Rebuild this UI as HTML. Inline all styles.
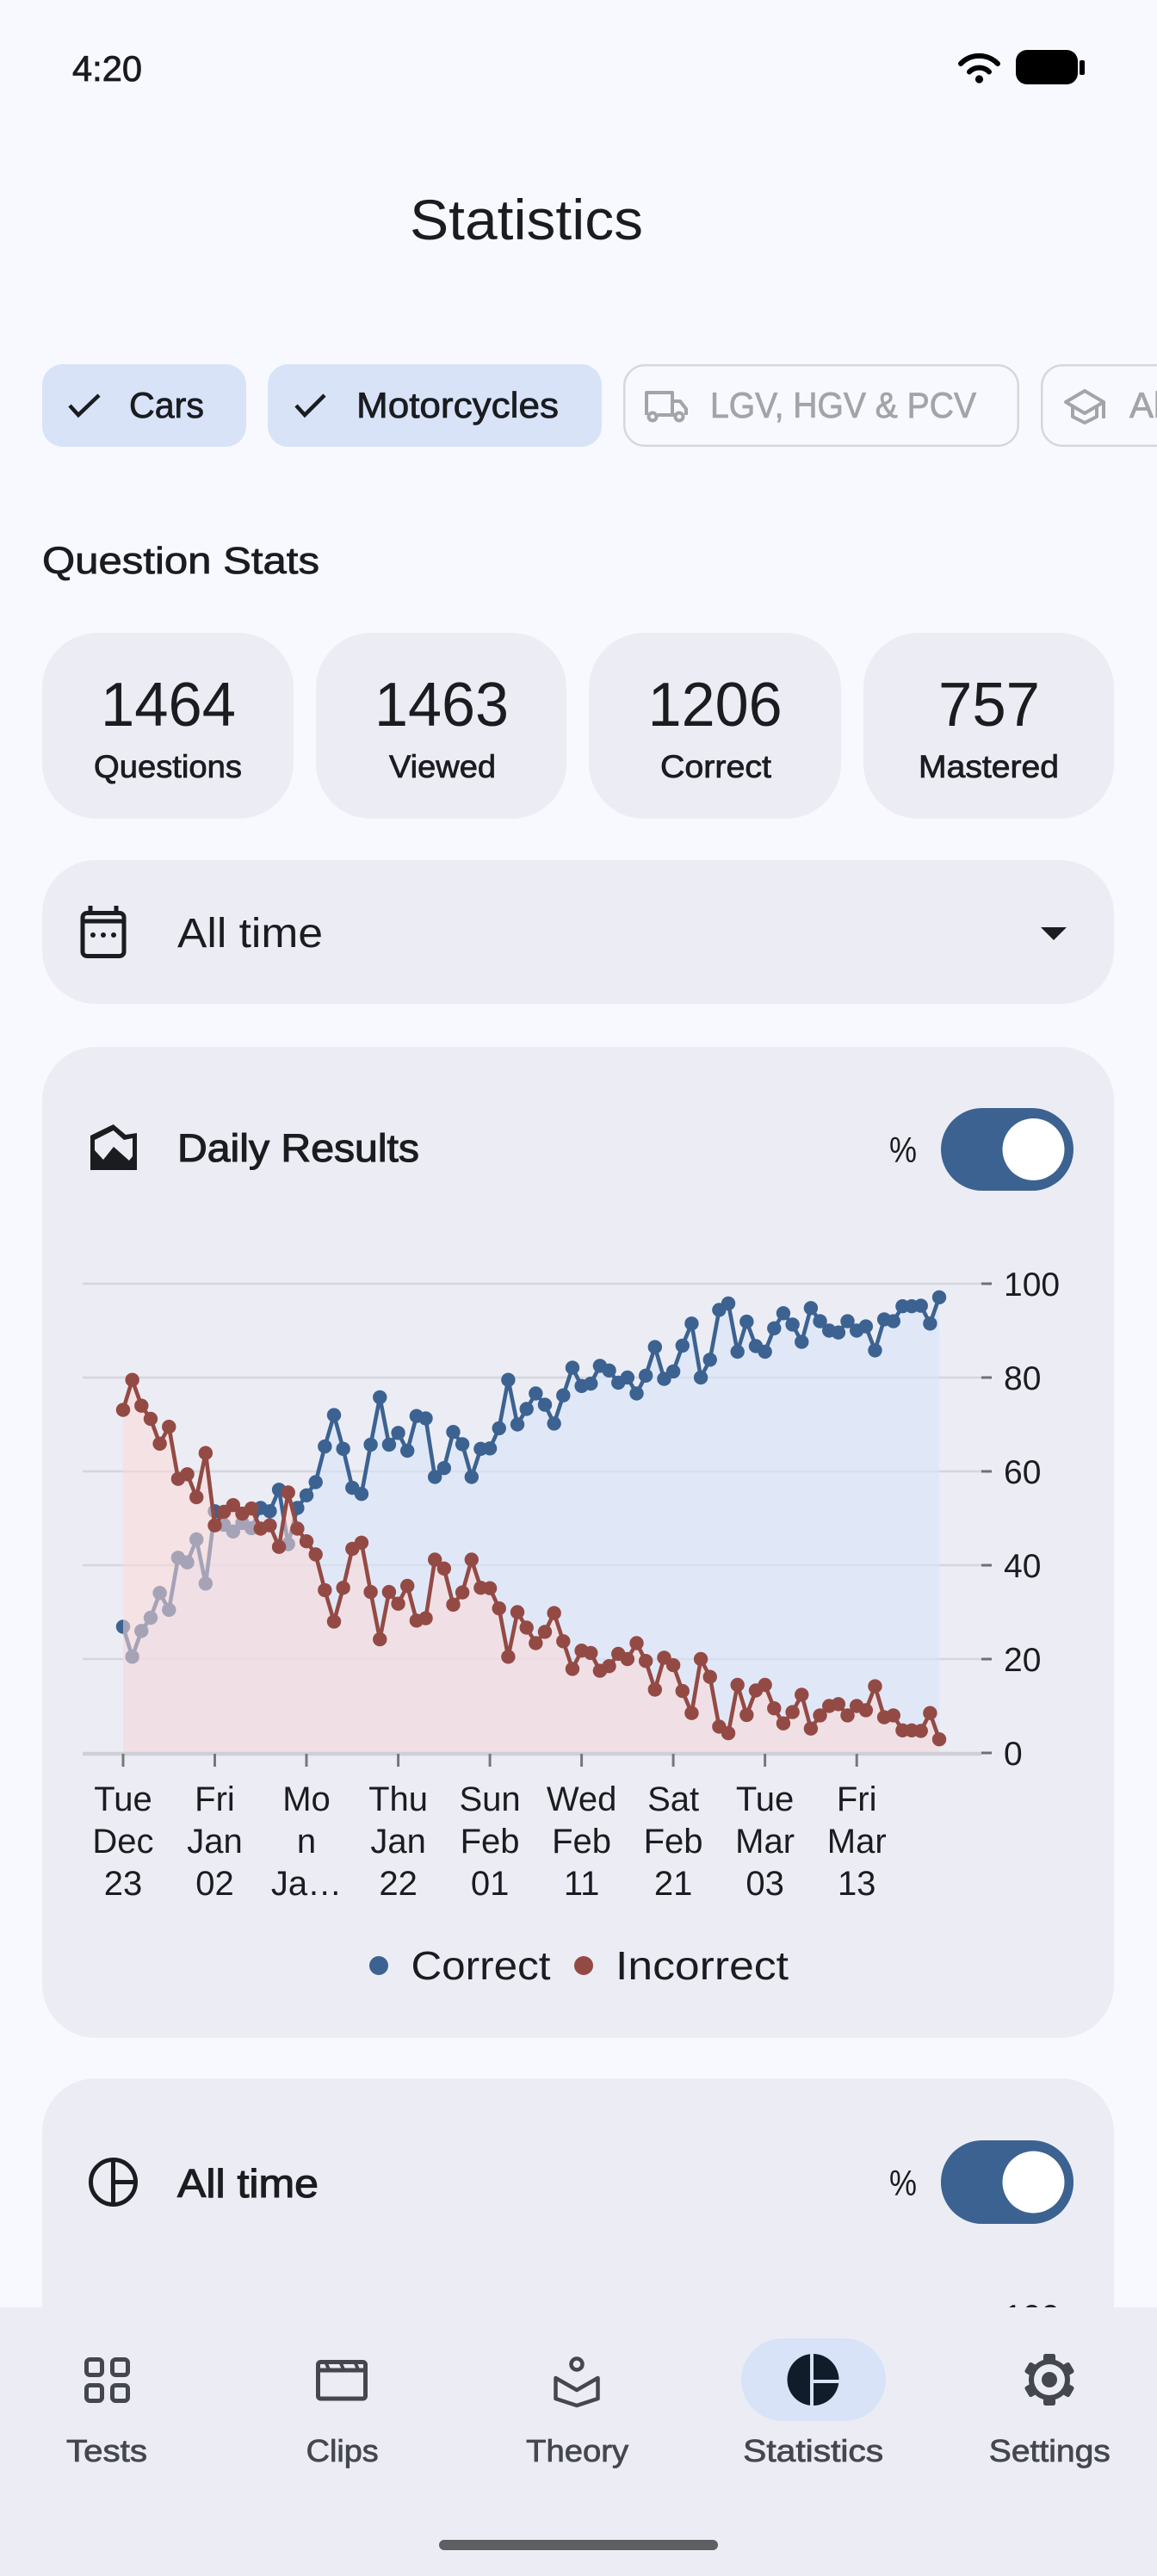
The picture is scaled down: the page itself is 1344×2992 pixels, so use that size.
<!DOCTYPE html>
<html>
<head>
<meta charset="utf-8">
<style>
html,body{margin:0;padding:0;background:#f8f9fe;}
svg{display:block;}
text{font-family:"Liberation Sans",sans-serif;}
.m{stroke-width:0.8px;}
</style>
</head>
<body>
<svg width="1344" height="2992" viewBox="0 0 1344 2992" xmlns="http://www.w3.org/2000/svg">
<defs>
<marker id="mb" viewBox="-9 -9 18 18" markerWidth="18" markerHeight="18" refX="0" refY="0" markerUnits="userSpaceOnUse"><circle r="8.2" fill="#3c6291"/></marker>
<marker id="mr" viewBox="-9 -9 18 18" markerWidth="18" markerHeight="18" refX="0" refY="0" markerUnits="userSpaceOnUse"><circle r="8.2" fill="#944a44"/></marker>
</defs>
<rect x="0" y="0" width="1344" height="2992" fill="#f8f9fe"/>

<!-- status bar -->
<text x="84" y="94" font-size="42" textLength="81" lengthAdjust="spacingAndGlyphs" fill="#1b1b1f" stroke="#1b1b1f" class="m">4:20</text>
<g fill="none" stroke="#000" stroke-width="6" stroke-linecap="round">
<path d="M1116,74 A30,30 0 0 1 1159,74"/>
<path d="M1126,83.5 A16,16 0 0 1 1149,83.5"/>
</g>
<circle cx="1137.5" cy="92" r="4.6" fill="#000"/>
<rect x="1180" y="58" width="72" height="40" rx="13" fill="#000"/>
<rect x="1254" y="70" width="6" height="17" rx="2" fill="#000"/>

<!-- title -->
<text x="476" y="278" font-size="66" textLength="271" lengthAdjust="spacingAndGlyphs" fill="#1a1c20">Statistics</text>

<!-- chips -->
<rect x="49" y="423" width="237" height="96" rx="24" fill="#d8e3f8"/>
<polyline points="81,471 91,482 115,459" fill="none" stroke="#1a1c20" stroke-width="4.5"/>
<text x="150" y="485" font-size="42" textLength="87" lengthAdjust="spacingAndGlyphs" fill="#1a1c20" stroke="#1a1c20" class="m">Cars</text>

<rect x="311" y="423" width="388" height="96" rx="24" fill="#d8e3f8"/>
<polyline points="344,471 354,482 377,459" fill="none" stroke="#1a1c20" stroke-width="4.5"/>
<text x="414" y="485" font-size="42" textLength="235" lengthAdjust="spacingAndGlyphs" fill="#1a1c20" stroke="#1a1c20" class="m">Motorcycles</text>

<rect x="725.25" y="424.25" width="457.5" height="93.5" rx="24" fill="none" stroke="#d6d7dd" stroke-width="2.5"/>
<g fill="none" stroke="#a3a4a8" stroke-width="4" stroke-linejoin="round">
<path d="M751,482 L751,456 L781,456 L781,482"/>
<path d="M781,466 L790,466 L797,475 L797,482"/>
<path d="M764,482 L784,482"/>
<circle cx="758" cy="484" r="4.5"/>
<circle cx="789" cy="484" r="4.5"/>
</g>
<text x="825" y="485" font-size="42" textLength="309" lengthAdjust="spacingAndGlyphs" fill="#a3a4a8" stroke="#a3a4a8" class="m">LGV, HGV &amp; PCV</text>

<rect x="1210.25" y="424.25" width="300" height="93.5" rx="24" fill="none" stroke="#d6d7dd" stroke-width="2.5"/>
<g fill="none" stroke="#a3a4a8" stroke-width="4" stroke-linejoin="round">
<path d="M1238,467 L1260,454 L1282,467 L1260,480 Z"/>
<path d="M1246,472 L1246,484 L1260,491 L1274,484 L1274,472"/>
<path d="M1282,467 L1282,486"/>
</g>
<text x="1312" y="485" font-size="42" fill="#a3a4a8" stroke="#a3a4a8" class="m">All</text>

<!-- Question stats -->
<text x="49" y="666" font-size="44" textLength="322" lengthAdjust="spacingAndGlyphs" fill="#1a1c20" stroke="#1a1c20" class="m">Question Stats</text>

<rect x="49" y="735" width="292" height="216" rx="64" fill="#ecedf4"/>
<rect x="367" y="735" width="291" height="216" rx="64" fill="#ecedf4"/>
<rect x="684" y="735" width="293" height="216" rx="64" fill="#ecedf4"/>
<rect x="1003" y="735" width="291" height="216" rx="64" fill="#ecedf4"/>

<g fill="#1a1c20" font-size="72" text-anchor="middle">
<text x="195.5" y="843" textLength="157" lengthAdjust="spacingAndGlyphs">1464</text>
<text x="513" y="843" textLength="156" lengthAdjust="spacingAndGlyphs">1463</text>
<text x="830.6" y="843" textLength="156" lengthAdjust="spacingAndGlyphs">1206</text>
<text x="1149" y="843" textLength="118" lengthAdjust="spacingAndGlyphs">757</text>
</g>
<g fill="#1a1c20" stroke="#1a1c20" font-size="37" text-anchor="middle" class="m">
<text x="195" y="903" textLength="172" lengthAdjust="spacingAndGlyphs">Questions</text>
<text x="514" y="903" textLength="124" lengthAdjust="spacingAndGlyphs">Viewed</text>
<text x="831.5" y="903" textLength="129" lengthAdjust="spacingAndGlyphs">Correct</text>
<text x="1148.5" y="903" textLength="163" lengthAdjust="spacingAndGlyphs">Mastered</text>
</g>

<!-- dropdown -->
<rect x="49" y="999" width="1245" height="167" rx="62" fill="#ecedf4"/>
<g fill="none" stroke="#1a1c20" stroke-width="5">
<rect x="96" y="1060.5" width="48" height="50" rx="5"/>
<line x1="96" y1="1070" x2="144" y2="1070"/>
<line x1="105" y1="1052" x2="105" y2="1060"/>
<line x1="135" y1="1052" x2="135" y2="1060"/>
</g>
<g fill="#1a1c20">
<circle cx="108" cy="1086" r="3"/><circle cx="120" cy="1086" r="3"/><circle cx="132" cy="1086" r="3"/>
</g>
<text x="206" y="1100" font-size="48" textLength="169" lengthAdjust="spacingAndGlyphs" fill="#1a1c20">All time</text>
<polygon points="1209,1077 1239,1077 1224,1092" fill="#1a1c20"/>

<!-- Daily results card -->
<rect x="49" y="1216" width="1245" height="1151" rx="62" fill="#ecedf4"/>
<polygon points="105,1319 131.7,1306 146,1318 159,1316 159,1359 105,1359" fill="#1a1c20"/>
<polygon points="110,1324 131.7,1313 144,1324 154,1322 154,1343 150,1348 132,1332 120,1347 110,1336" fill="#ecedf4"/>
<text x="206" y="1349" font-size="45" textLength="281" lengthAdjust="spacingAndGlyphs" fill="#1a1c20" stroke="#1a1c20" stroke-width="1.1">Daily Results</text>
<text x="1033" y="1350" font-size="42" textLength="32" lengthAdjust="spacingAndGlyphs" fill="#1a1c20">%</text>
<rect x="1093" y="1287" width="154" height="96" rx="48" fill="#3c6291"/>
<circle cx="1200.5" cy="1335" r="36" fill="#ffffff"/>

<!-- chart grid -->
<g stroke="#d5d6dd" stroke-width="2.5">
<line x1="96" y1="1491" x2="1140" y2="1491"/>
<line x1="96" y1="1600" x2="1140" y2="1600"/>
<line x1="96" y1="1709" x2="1140" y2="1709"/>
<line x1="96" y1="1818" x2="1140" y2="1818"/>
<line x1="96" y1="1927" x2="1140" y2="1927"/>
</g>

<!-- blue area -->
<polygon fill="rgb(216,228,250)" fill-opacity="0.6" points="143,2036 143,1889.4 153.65,1924.3 164.3,1894.3 174.96,1879 185.61,1850.2 196.26,1869.8 206.91,1809.3 217.56,1814.7 228.22,1788 238.87,1839.3 249.52,1755.3 260.17,1771.1 270.82,1778.8 281.48,1768.9 292.13,1774.9 302.78,1751.5 313.43,1755.3 324.08,1730.3 334.74,1793.5 345.39,1751.5 356.04,1736.8 366.69,1721.5 377.34,1680.1 388,1643.6 398.65,1682.8 409.3,1728.1 419.95,1735.2 430.6,1677.9 441.26,1622.9 451.91,1677.9 462.56,1664.3 473.21,1685 483.86,1644.7 494.52,1647.4 505.17,1715.5 515.82,1705.2 526.47,1663.2 537.12,1677.4 547.78,1715.5 558.43,1682.8 569.08,1682.3 579.73,1658.9 590.38,1602.7 601.04,1654.5 611.69,1636.5 622.34,1618.5 632.99,1631.6 643.64,1653.4 654.3,1620.7 664.95,1588.6 675.6,1609.8 686.25,1607.1 696.9,1586.4 707.56,1591.8 718.21,1606 728.86,1600 739.51,1618.5 750.16,1597.8 760.82,1564.6 771.47,1601.6 782.12,1592.9 792.77,1562.9 803.42,1537.3 814.08,1600 824.73,1579.3 835.38,1521.5 846.03,1513.9 856.68,1570 867.34,1535.1 877.99,1563.5 888.64,1570 899.29,1542.8 909.94,1525.3 920.6,1538.4 931.25,1558.6 941.9,1519.3 952.55,1534.6 963.2,1545.5 973.86,1547.7 984.51,1534.6 995.16,1545.5 1005.81,1540.6 1016.46,1568.4 1027.12,1532.4 1037.77,1534.6 1048.42,1517.2 1059.07,1517.2 1069.72,1516.6 1080.38,1537.3 1091.03,1506.8 1091.03,2036"/>

<!-- blue line -->
<polyline fill="none" stroke="#3c6291" stroke-width="4.6" stroke-linejoin="round" marker-start="url(#mb)" marker-mid="url(#mb)" marker-end="url(#mb)" points="143,1889.4 153.65,1924.3 164.3,1894.3 174.96,1879 185.61,1850.2 196.26,1869.8 206.91,1809.3 217.56,1814.7 228.22,1788 238.87,1839.3 249.52,1755.3 260.17,1771.1 270.82,1778.8 281.48,1768.9 292.13,1774.9 302.78,1751.5 313.43,1755.3 324.08,1730.3 334.74,1793.5 345.39,1751.5 356.04,1736.8 366.69,1721.5 377.34,1680.1 388,1643.6 398.65,1682.8 409.3,1728.1 419.95,1735.2 430.6,1677.9 441.26,1622.9 451.91,1677.9 462.56,1664.3 473.21,1685 483.86,1644.7 494.52,1647.4 505.17,1715.5 515.82,1705.2 526.47,1663.2 537.12,1677.4 547.78,1715.5 558.43,1682.8 569.08,1682.3 579.73,1658.9 590.38,1602.7 601.04,1654.5 611.69,1636.5 622.34,1618.5 632.99,1631.6 643.64,1653.4 654.3,1620.7 664.95,1588.6 675.6,1609.8 686.25,1607.1 696.9,1586.4 707.56,1591.8 718.21,1606 728.86,1600 739.51,1618.5 750.16,1597.8 760.82,1564.6 771.47,1601.6 782.12,1592.9 792.77,1562.9 803.42,1537.3 814.08,1600 824.73,1579.3 835.38,1521.5 846.03,1513.9 856.68,1570 867.34,1535.1 877.99,1563.5 888.64,1570 899.29,1542.8 909.94,1525.3 920.6,1538.4 931.25,1558.6 941.9,1519.3 952.55,1534.6 963.2,1545.5 973.86,1547.7 984.51,1534.6 995.16,1545.5 1005.81,1540.6 1016.46,1568.4 1027.12,1532.4 1037.77,1534.6 1048.42,1517.2 1059.07,1517.2 1069.72,1516.6 1080.38,1537.3 1091.03,1506.8"/>

<!-- red area -->
<polygon fill="rgb(253,217,215)" fill-opacity="0.55" points="143,2036 143,1637.6 153.65,1602.7 164.3,1632.7 174.96,1648 185.61,1676.8 196.26,1657.2 206.91,1717.7 217.56,1712.3 228.22,1739 238.87,1687.7 249.52,1771.7 260.17,1755.9 270.82,1748.2 281.48,1758.1 292.13,1752.1 302.78,1775.5 313.43,1771.7 324.08,1796.7 334.74,1733.5 345.39,1775.5 356.04,1790.2 366.69,1805.5 377.34,1846.9 388,1883.4 398.65,1844.2 409.3,1798.9 419.95,1791.8 430.6,1849.1 441.26,1904.1 451.91,1849.1 462.56,1862.7 473.21,1842 483.86,1882.3 494.52,1879.6 505.17,1811.5 515.82,1821.8 526.47,1863.8 537.12,1849.6 547.78,1811.5 558.43,1844.2 569.08,1844.7 579.73,1868.1 590.38,1924.3 601.04,1872.5 611.69,1890.5 622.34,1908.5 632.99,1895.4 643.64,1873.6 654.3,1906.3 664.95,1938.4 675.6,1917.2 686.25,1919.9 696.9,1940.6 707.56,1935.2 718.21,1921 728.86,1927 739.51,1908.5 750.16,1929.2 760.82,1962.4 771.47,1925.4 782.12,1934.1 792.77,1964.1 803.42,1989.7 814.08,1927 824.73,1947.7 835.38,2005.5 846.03,2013.1 856.68,1957 867.34,1991.9 877.99,1963.5 888.64,1957 899.29,1984.2 909.94,2001.7 920.6,1988.6 931.25,1968.4 941.9,2007.7 952.55,1992.4 963.2,1981.5 973.86,1979.3 984.51,1992.4 995.16,1981.5 1005.81,1986.4 1016.46,1958.6 1027.12,1994.6 1037.77,1992.4 1048.42,2009.8 1059.07,2009.8 1069.72,2010.4 1080.38,1989.7 1091.03,2020.2 1091.03,2036"/>

<!-- red line -->
<polyline fill="none" stroke="#944a44" stroke-width="4.6" stroke-linejoin="round" marker-start="url(#mr)" marker-mid="url(#mr)" marker-end="url(#mr)" points="143,1637.6 153.65,1602.7 164.3,1632.7 174.96,1648 185.61,1676.8 196.26,1657.2 206.91,1717.7 217.56,1712.3 228.22,1739 238.87,1687.7 249.52,1771.7 260.17,1755.9 270.82,1748.2 281.48,1758.1 292.13,1752.1 302.78,1775.5 313.43,1771.7 324.08,1796.7 334.74,1733.5 345.39,1775.5 356.04,1790.2 366.69,1805.5 377.34,1846.9 388,1883.4 398.65,1844.2 409.3,1798.9 419.95,1791.8 430.6,1849.1 441.26,1904.1 451.91,1849.1 462.56,1862.7 473.21,1842 483.86,1882.3 494.52,1879.6 505.17,1811.5 515.82,1821.8 526.47,1863.8 537.12,1849.6 547.78,1811.5 558.43,1844.2 569.08,1844.7 579.73,1868.1 590.38,1924.3 601.04,1872.5 611.69,1890.5 622.34,1908.5 632.99,1895.4 643.64,1873.6 654.3,1906.3 664.95,1938.4 675.6,1917.2 686.25,1919.9 696.9,1940.6 707.56,1935.2 718.21,1921 728.86,1927 739.51,1908.5 750.16,1929.2 760.82,1962.4 771.47,1925.4 782.12,1934.1 792.77,1964.1 803.42,1989.7 814.08,1927 824.73,1947.7 835.38,2005.5 846.03,2013.1 856.68,1957 867.34,1991.9 877.99,1963.5 888.64,1957 899.29,1984.2 909.94,2001.7 920.6,1988.6 931.25,1968.4 941.9,2007.7 952.55,1992.4 963.2,1981.5 973.86,1979.3 984.51,1992.4 995.16,1981.5 1005.81,1986.4 1016.46,1958.6 1027.12,1994.6 1037.77,1992.4 1048.42,2009.8 1059.07,2009.8 1069.72,2010.4 1080.38,1989.7 1091.03,2020.2"/>

<!-- x axis -->
<line x1="96" y1="2037" x2="1140" y2="2037" stroke="#cfd0d7" stroke-width="4.5"/>
<g stroke="#76777d" stroke-width="3">
<line x1="143" y1="2037" x2="143" y2="2052"/>
<line x1="249.5" y1="2037" x2="249.5" y2="2052"/>
<line x1="356" y1="2037" x2="356" y2="2052"/>
<line x1="462.6" y1="2037" x2="462.6" y2="2052"/>
<line x1="569.1" y1="2037" x2="569.1" y2="2052"/>
<line x1="675.6" y1="2037" x2="675.6" y2="2052"/>
<line x1="782.1" y1="2037" x2="782.1" y2="2052"/>
<line x1="888.6" y1="2037" x2="888.6" y2="2052"/>
<line x1="995.2" y1="2037" x2="995.2" y2="2052"/>
</g>
<!-- y ticks -->
<g stroke="#6f7076" stroke-width="3">
<line x1="1140" y1="1491" x2="1152" y2="1491"/>
<line x1="1140" y1="1600" x2="1152" y2="1600"/>
<line x1="1140" y1="1709" x2="1152" y2="1709"/>
<line x1="1140" y1="1818" x2="1152" y2="1818"/>
<line x1="1140" y1="1927" x2="1152" y2="1927"/>
<line x1="1140" y1="2036" x2="1152" y2="2036"/>
</g>
<g fill="#1a1c20" font-size="39">
<text x="1166" y="1505">100</text>
<text x="1166" y="1614">80</text>
<text x="1166" y="1723">60</text>
<text x="1166" y="1832">40</text>
<text x="1166" y="1941">20</text>
<text x="1166" y="2050">0</text>
</g>
<g fill="#1a1c20" font-size="40" text-anchor="middle">
<text x="143" y="2103">Tue</text><text x="143" y="2152">Dec</text><text x="143" y="2201">23</text>
<text x="249.5" y="2103">Fri</text><text x="249.5" y="2152">Jan</text><text x="249.5" y="2201">02</text>
<text x="356" y="2103">Mo</text><text x="356" y="2152">n</text><text x="356" y="2201">Ja…</text>
<text x="462.6" y="2103">Thu</text><text x="462.6" y="2152">Jan</text><text x="462.6" y="2201">22</text>
<text x="569.1" y="2103">Sun</text><text x="569.1" y="2152">Feb</text><text x="569.1" y="2201">01</text>
<text x="675.6" y="2103">Wed</text><text x="675.6" y="2152">Feb</text><text x="675.6" y="2201">11</text>
<text x="782.1" y="2103">Sat</text><text x="782.1" y="2152">Feb</text><text x="782.1" y="2201">21</text>
<text x="888.6" y="2103">Tue</text><text x="888.6" y="2152">Mar</text><text x="888.6" y="2201">03</text>
<text x="995.2" y="2103">Fri</text><text x="995.2" y="2152">Mar</text><text x="995.2" y="2201">13</text>
</g>

<!-- legend -->
<circle cx="440" cy="2283" r="11" fill="#3c6291"/>
<text x="477.5" y="2299" font-size="46" textLength="162" lengthAdjust="spacingAndGlyphs" fill="#1a1c20">Correct</text>
<circle cx="678" cy="2283" r="11" fill="#944a44"/>
<text x="715" y="2299" font-size="46" textLength="201" lengthAdjust="spacingAndGlyphs" fill="#1a1c20">Incorrect</text>

<!-- second card -->
<rect x="49" y="2414" width="1245" height="500" rx="62" fill="#ecedf4"/>
<g fill="none" stroke="#1a1c20" stroke-width="5">
<circle cx="131.5" cy="2534.5" r="26"/>
<line x1="131.5" y1="2508" x2="131.5" y2="2561"/>
<line x1="131.5" y1="2534.5" x2="158" y2="2534.5"/>
</g>
<text x="206" y="2552" font-size="46" textLength="164" lengthAdjust="spacingAndGlyphs" fill="#1a1c20" stroke="#1a1c20" stroke-width="1.1">All time</text>
<text x="1033" y="2550" font-size="42" textLength="32" lengthAdjust="spacingAndGlyphs" fill="#1a1c20">%</text>
<rect x="1093" y="2486" width="154" height="97" rx="48" fill="#3c6291"/>
<circle cx="1200.5" cy="2534.5" r="36" fill="#ffffff"/>
<text x="1166" y="2704" font-size="39" fill="#1a1c20">100</text>

<!-- bottom nav -->
<rect x="0" y="2680" width="1344" height="312" fill="#ecedf4"/>
<rect x="861" y="2716" width="168" height="96" rx="48" fill="#d8e3f8"/>

<!-- Tests icon -->
<g fill="none" stroke="#44474e" stroke-width="5">
<rect x="100.5" y="2740.5" width="18" height="18" rx="4"/>
<rect x="130.5" y="2740.5" width="18" height="18" rx="4"/>
<rect x="100.5" y="2770.5" width="18" height="18" rx="4"/>
<rect x="130.5" y="2770.5" width="18" height="18" rx="4"/>
</g>
<!-- Clips icon -->
<g fill="none" stroke="#44474e" stroke-width="5" stroke-linejoin="round">
<rect x="369.5" y="2743.5" width="55" height="42.5" rx="3"/>
<line x1="369.5" y1="2753" x2="424.5" y2="2753"/>
</g>
<g stroke="#44474e" stroke-width="4">
<line x1="378" y1="2743" x2="382" y2="2752"/>
<line x1="395" y1="2743" x2="399" y2="2752"/>
<line x1="412" y1="2743" x2="416" y2="2752"/>
</g>
<!-- Theory icon -->
<g fill="none" stroke="#44474e" stroke-width="4.5" stroke-linejoin="round">
<circle cx="670" cy="2746" r="6.5"/>
<path d="M645.5,2762 L670,2776 L694.5,2762 L694.5,2786 L670,2794 L645.5,2786 Z"/>
</g>
<!-- Statistics icon -->
<circle cx="944.5" cy="2764" r="30" fill="#111c2b"/>
<line x1="943" y1="2732" x2="943" y2="2796" stroke="#d8e3f8" stroke-width="4"/>
<line x1="943" y1="2766" x2="977" y2="2766" stroke="#d8e3f8" stroke-width="4"/>
<!-- Settings icon -->
<g transform="translate(1219,2764)" fill="#44474e">
<circle r="24"/>
<rect x="-7" y="-30" width="14" height="12" rx="2.5"/>
<rect x="-7" y="-30" width="14" height="12" rx="2.5" transform="rotate(60)"/>
<rect x="-7" y="-30" width="14" height="12" rx="2.5" transform="rotate(120)"/>
<rect x="-7" y="-30" width="14" height="12" rx="2.5" transform="rotate(180)"/>
<rect x="-7" y="-30" width="14" height="12" rx="2.5" transform="rotate(240)"/>
<rect x="-7" y="-30" width="14" height="12" rx="2.5" transform="rotate(300)"/>
<circle r="18" fill="#ecedf4"/>
<circle r="9"/>
</g>

<g fill="#44474e" stroke="#44474e" font-size="36" text-anchor="middle" class="m">
<text x="124" y="2859" textLength="94" lengthAdjust="spacingAndGlyphs">Tests</text>
<text x="397.7" y="2859" textLength="84" lengthAdjust="spacingAndGlyphs">Clips</text>
<text x="670.6" y="2859" textLength="119" lengthAdjust="spacingAndGlyphs">Theory</text>
<text x="944.7" y="2859" textLength="163" lengthAdjust="spacingAndGlyphs">Statistics</text>
<text x="1219.3" y="2859" textLength="141" lengthAdjust="spacingAndGlyphs">Settings</text>
</g>

<rect x="510" y="2950" width="324" height="12" rx="6" fill="#5e5f63"/>
</svg>
</body>
</html>
